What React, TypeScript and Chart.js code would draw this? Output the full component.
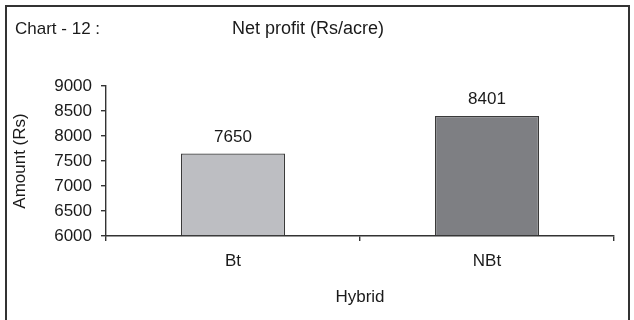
import React, { useEffect, useRef } from "react";
import { Chart, registerables } from "chart.js";

Chart.register(...registerables);

const categories = ["Bt", "NBt"];
const netProfit = [7650, 8401];
const barColors = ["#bdbec2", "#7e7f83"];
const yTicks = [6000, 6500, 7000, 7500, 8000, 8500, 9000];
const chartLabel = "Chart - 12 :";
const chartTitle = "Net profit (Rs/acre)";
const xTitle = "Hybrid";
const yTitle = "Amount (Rs)";

const FONT = "'Liberation Sans', Arial, sans-serif";
const INK = "#1a1a1a";
const AXIS = "#333";

// Draws the header texts and the value above each bar.
const annotate = {
  id: "annotate",
  afterDatasetsDraw(chart: any) {
    const ctx = chart.ctx;
    ctx.save();
    ctx.fillStyle = INK;
    ctx.textBaseline = "middle";
    ctx.textAlign = "left";
    ctx.font = `17px ${FONT}`;
    ctx.fillText(chartLabel, 15, 29);
    ctx.font = `18px ${FONT}`;
    ctx.fillText(chartTitle, 232, 29);

    const meta = chart.getDatasetMeta(0);
    ctx.font = `17px ${FONT}`;
    ctx.textAlign = "center";
    ctx.textBaseline = "bottom";
    meta.data.forEach((bar: any, i: number) => {
      ctx.fillText(String(netProfit[i]), bar.x, bar.y - 8);
    });
    ctx.restore();
  },
};

export default function App() {
  const ref = useRef<HTMLCanvasElement | null>(null);

  useEffect(() => {
    if (!ref.current) return;
    const chart = new Chart(ref.current, {
      type: "bar",
      data: {
        labels: categories,
        datasets: [
          {
            data: netProfit,
            backgroundColor: barColors,
            borderColor: "#3a3a3a",
            borderWidth: 1.3,
            barPercentage: 0.41,
            categoryPercentage: 1,
            base: 6000,
          },
        ],
      },
      options: {
        animation: false,
        responsive: false,
        maintainAspectRatio: false,
        layout: { padding: { top: 86, right: 20, left: 0, bottom: 0 } },
        plugins: {
          legend: { display: false },
          tooltip: { enabled: false },
          title: { display: false },
        },
        scales: {
          x: {
            offset: true,
            grid: {
              display: true,
              offset: true,
              drawOnChartArea: false,
              drawTicks: true,
              tickLength: 5,
              color: AXIS,
              lineWidth: 1.4,
            },
            border: { display: true, color: AXIS, width: 1.4 },
            ticks: {
              color: INK,
              font: { family: FONT, size: 17 },
              padding: 10,
            },
            title: {
              display: true,
              text: xTitle,
              color: INK,
              font: { family: FONT, size: 17 },
              padding: { top: 0, bottom: 12 },
            },
            afterFit(scale: any) {
              scale.height = 84;
            },
          },
          y: {
            min: 6000,
            max: 9000,
            afterBuildTicks(scale: any) {
              scale.ticks = yTicks.map((v) => ({ value: v }));
            },
            grid: {
              display: true,
              drawOnChartArea: false,
              drawTicks: true,
              tickLength: 5,
              color: AXIS,
              lineWidth: 1.4,
            },
            border: { display: true, color: AXIS, width: 1.4 },
            ticks: {
              color: INK,
              font: { family: FONT, size: 17 },
              padding: 9,
              callback: (v: any) => String(v),
            },
            title: {
              display: true,
              text: yTitle,
              color: INK,
              font: { family: FONT, size: 17 },
              padding: { top: 10, bottom: 0 },
            },
            afterFit(scale: any) {
              scale.width = 106;
            },
          },
        },
      },
      plugins: [annotate],
    });
    return () => chart.destroy();
  }, []);

  return (
    <div
      style={{
        position: "absolute",
        left: 0,
        top: 0,
        width: 634,
        height: 320,
        overflow: "hidden",
        background: "#fff",
      }}
    >
      <div
        style={{
          position: "absolute",
          left: 5,
          top: 5,
          width: 621,
          height: 340,
          border: "2px solid #333",
          borderBottom: "none",
        }}
      />
      <canvas
        ref={ref}
        width={634}
        height={320}
        style={{ position: "absolute", left: 0, top: 0, width: 634, height: 320 }}
      />
    </div>
  );
}
